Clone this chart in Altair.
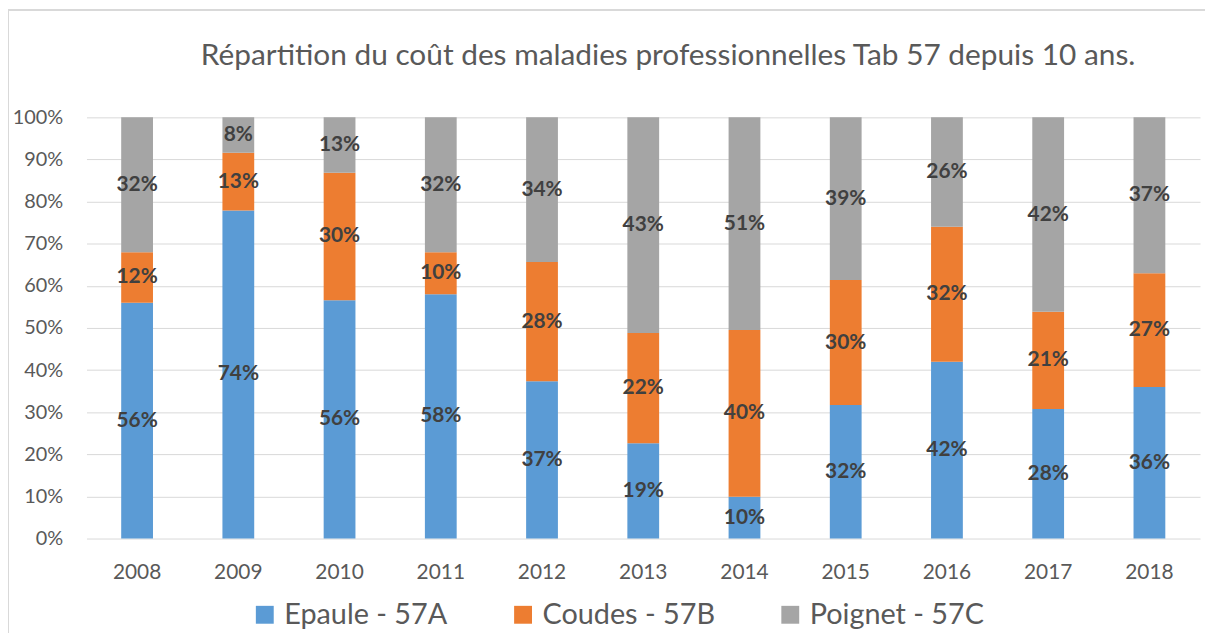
import altair as alt
import pandas as pd

years = ["2008", "2009", "2010", "2011", "2012", "2013", "2014", "2015", "2016", "2017", "2018"]
series = ["Epaule - 57A", "Coudes - 57B", "Poignet - 57C"]
epaule = [56, 74, 56, 58, 37, 19, 10, 32, 42, 28, 36]
coudes = [12, 13, 30, 10, 28, 22, 40, 30, 32, 21, 27]
poignet = [32, 8, 13, 32, 34, 43, 51, 39, 26, 42, 37]
colors = ["#5B9BD5", "#ED7D31", "#A5A5A5"]
y_ticks = [0, 0.1, 0.2, 0.3, 0.4, 0.5, 0.6, 0.7, 0.8, 0.9, 1.0]
title_text = "Répartition du coût des maladies professionnelles Tab 57 depuis 10 ans."

rows = []
for i, yr in enumerate(years):
    for k, (s, vals) in enumerate(zip(series, [epaule, coudes, poignet])):
        rows.append({"annee": yr, "serie": s, "ordre": k, "valeur": vals[i]})
df = pd.DataFrame(rows)

W, H = 1121, 424
FONT = "Lato"
GREY_TXT = "#595959"

x_enc = alt.X(
    "annee:N",
    title=None,
    sort=years,
    scale=alt.Scale(paddingInner=0.686, paddingOuter=0.343),
    axis=alt.Axis(labelFontSize=21, labelFont=FONT, labelColor=GREY_TXT, labelPadding=23,
                  ticks=False, domain=False, grid=False, labelAngle=0),
)

base = alt.Chart(df)

bars = base.mark_bar().encode(
    x=x_enc,
    y=alt.Y(
        "valeur:Q",
        stack="normalize",
        title=None,
        scale=alt.Scale(domain=[0, 1]),
        axis=alt.Axis(format=".0%", values=y_ticks, labelFontSize=20, labelFont=FONT,
                      labelColor=GREY_TXT, labelPadding=24, ticks=False, domain=False,
                      grid=True, gridColor="#D9D9D9", gridWidth=1),
    ),
    color=alt.Color(
        "serie:N",
        scale=alt.Scale(domain=series, range=colors),
        legend=alt.Legend(
            orient="none", legendX=165, legendY=486, direction="horizontal", title=None,
            symbolType="square", symbolSize=324, symbolStrokeWidth=0, symbolOpacity=1,
            labelFontSize=29, labelFont=FONT, labelColor=GREY_TXT, columnPadding=61,
            labelOffset=5, labelLimit=400,
        ),
    ),
    order=alt.Order("ordre:Q", sort="ascending"),
)

labels = (
    base.transform_joinaggregate(total="sum(valeur)", groupby=["annee"])
    .transform_calculate(part="datum.valeur / datum.total")
    .transform_window(cum="sum(part)", groupby=["annee"], sort=[alt.SortField("ordre")], frame=[None, 0])
    .transform_calculate(mid="datum.cum - datum.part / 2", lab="datum.valeur + '%'")
    .mark_text(font=FONT, fontWeight="bold", fontSize=21, color="#404040")
    .encode(x=x_enc, y=alt.Y("mid:Q"), text="lab:N")
)

one = alt.Chart(pd.DataFrame({"a": [0]}))

border = one.mark_rect(
    fill="transparent", stroke="#D9D9D9", strokeWidth=2
).encode(
    x=alt.value(-79), x2=alt.value(W + 100), y=alt.value(-108), y2=alt.value(H + 200)
)

title = one.mark_text(
    font=FONT, fontSize=30, color=GREY_TXT, align="center", baseline="middle"
).encode(
    x=alt.value(W / 2 + 25), y=alt.value(-62), text=alt.value(title_text)
)

chart = (
    alt.layer(border, title, bars, labels)
    .properties(
        width=W,
        height=H,
        autosize="none",
        padding={"left": 79, "top": 108, "right": 5, "bottom": 93},
    )
    .configure_view(stroke=None)
)

chart.save("out.html", embed_options={"renderer": "svg", "actions": False})
